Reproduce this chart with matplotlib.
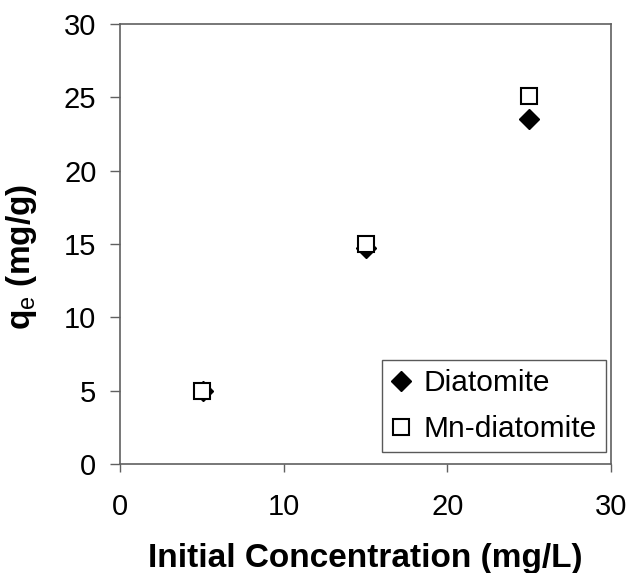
import matplotlib
matplotlib.use("Agg")
import matplotlib.pyplot as plt

plt.rcParams['font.family'] = ['Liberation Sans', 'DejaVu Sans']
plt.rcParams['mathtext.fontset'] = 'custom'
plt.rcParams['mathtext.rm'] = 'Liberation Sans'
plt.rcParams['mathtext.bf'] = 'Liberation Sans:bold'

# initial concentration (mg/L) and uptake q_e (mg/g)
conc_diatomite = [5.1, 15, 25]
qe_diatomite = [4.95, 14.7, 23.5]
conc_mn = [5, 15, 25]
qe_mn = [5.0, 15.0, 25.1]
x_ticks = [0, 10, 20, 30]
y_ticks = [0, 5, 10, 15, 20, 25, 30]

fig = plt.figure(figsize=(6.3, 5.73), dpi=100)
ax = fig.add_axes([120/630, 1 - 464/573, 491/630, 440/573])

ax.plot(conc_diatomite, qe_diatomite, linestyle='none', marker='D', markersize=10,
        color='black', label='Diatomite', zorder=3)
ax.plot(conc_mn, qe_mn, linestyle='none', marker='s', markersize=12,
        markerfacecolor='white', markeredgecolor='black', markeredgewidth=1.5,
        label='Mn-diatomite', zorder=4)

ax.set_xlim(0, 30)
ax.set_ylim(0, 30)
ax.set_xticks(x_ticks)
ax.set_yticks(y_ticks)

for s in ax.spines.values():
    s.set_color('#606060')
    s.set_linewidth(1.2)
ax.tick_params(axis='x', direction='out', length=6, width=1, color='#606060',
               labelsize=21, pad=15)
ax.tick_params(axis='y', direction='out', length=7, width=1, color='#606060',
               labelsize=21, pad=10)

ax.set_xlabel('Initial Concentration (mg/L)', fontsize=24, fontweight='bold')
ax.xaxis.set_label_coords(0.5, -0.18)
ax.set_ylabel(r'$\mathbf{q}_{\mathrm{e}}$ (mg/g)', fontsize=24, fontweight='bold')
ax.yaxis.set_label_coords(-0.165, 0.47)

leg = ax.legend(loc='lower right', fontsize=21.5, frameon=True, fancybox=False,
                handlelength=0.7, handletextpad=0.4, borderpad=0.3,
                labelspacing=0.6, borderaxespad=0.0, bbox_to_anchor=(0.99, 0.027))
leg.get_frame().set_edgecolor('#303030')
leg.get_frame().set_linewidth(1.0)

fig.savefig('out.png', dpi=100)
